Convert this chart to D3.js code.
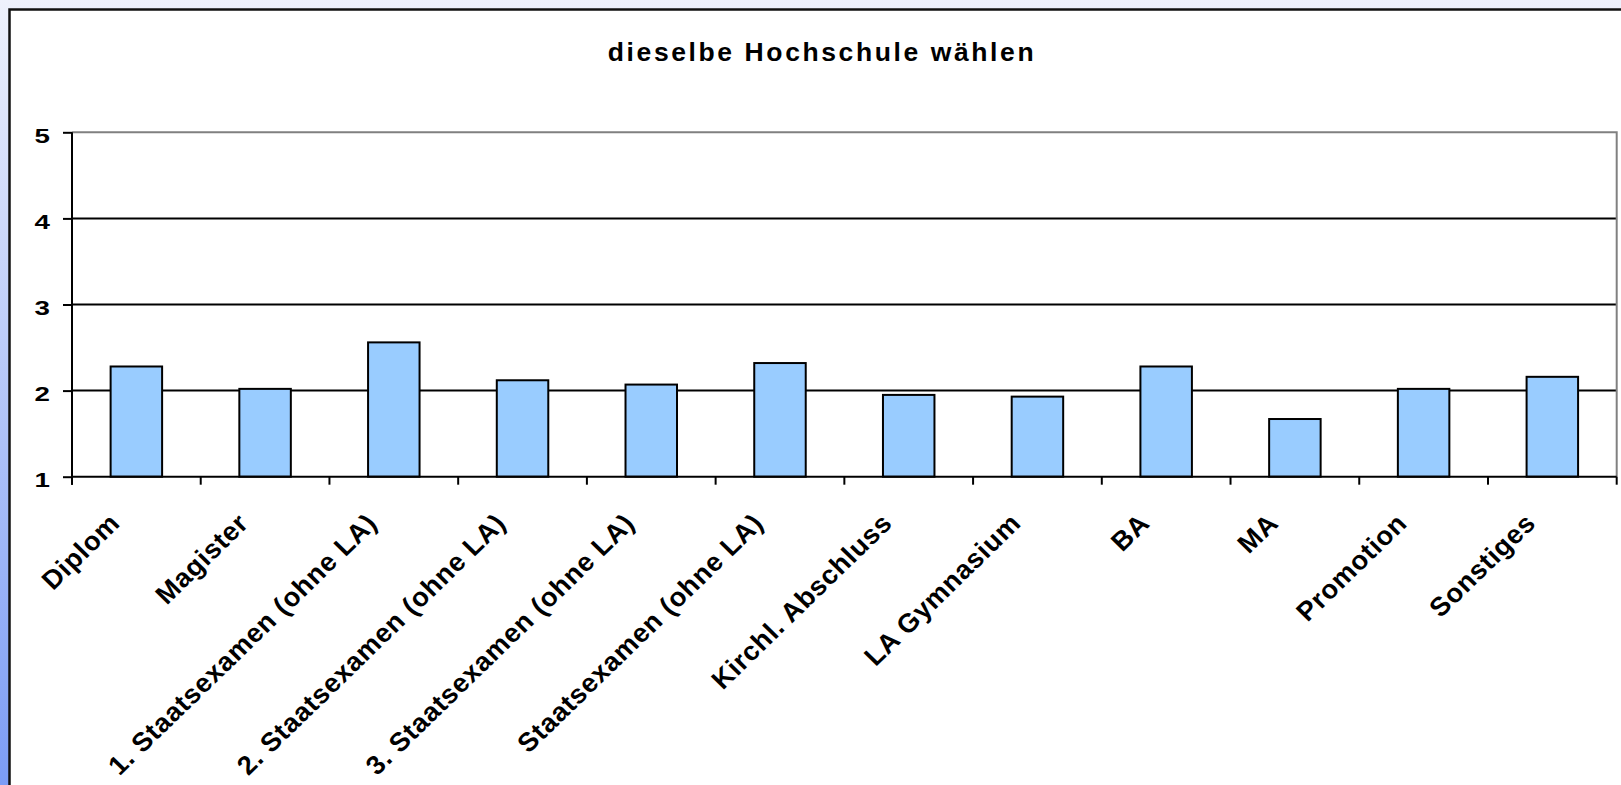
<!DOCTYPE html>
<html>
<head>
<meta charset="utf-8">
<script src="https://d3js.org/d3.v7.min.js"></script>
<style>
  body { margin: 0; padding: 0; overflow: hidden; }
  svg { display: block; }
  text { font-family: "Liberation Sans", Arial, sans-serif; font-weight: bold; fill: #000; }
</style>
</head>
<body>
<div id="chart"></div>
<script>
// data
var categories = ["Diplom", "Magister", "1. Staatsexamen (ohne LA)", "2. Staatsexamen (ohne LA)",
  "3. Staatsexamen (ohne LA)", "Staatsexamen (ohne LA)", "Kirchl. Abschluss", "LA Gymnasium",
  "BA", "MA", "Promotion", "Sonstiges"];
var values = [2.28, 2.02, 2.56, 2.12, 2.07, 2.32, 1.95, 1.93, 2.28, 1.67, 2.02, 2.16];
var yTicks = [1, 2, 3, 4, 5];
var title = "dieselbe Hochschule wählen";

var width = 1621, height = 785;
var margin = { top: 132.3, right: 4.3, bottom: 308.3, left: 72 };

var svg = d3.select("#chart").append("svg")
  .attr("width", width)
  .attr("height", height);

// background gradient + frame
var defs = svg.append("defs");
var grad = defs.append("linearGradient")
  .attr("id", "bg")
  .attr("x1", 0).attr("y1", 0).attr("x2", 0).attr("y2", 1);
grad.append("stop").attr("offset", "0%").attr("stop-color", "#eef1fc");
grad.append("stop").attr("offset", "100%").attr("stop-color", "#7b9cf5");

svg.append("rect")
  .attr("width", width).attr("height", height)
  .attr("fill", "url(#bg)");

svg.append("rect")
  .attr("x", 9.5).attr("y", 9.5)
  .attr("width", width + 20).attr("height", height + 20)
  .attr("fill", "#fff")
  .attr("stroke", "#111")
  .attr("stroke-width", 2.5);

svg.append("text")
  .attr("x", 822)
  .attr("y", 61)
  .attr("text-anchor", "middle")
  .style("font-size", "26.5px")
  .style("letter-spacing", "2.6px")
  .text(title);

var x = d3.scaleBand()
  .domain(categories)
  .range([margin.left, width - margin.right])
  .paddingInner(0.6)
  .paddingOuter(0.3);

var y = d3.scaleLinear()
  .domain([1, 5])
  .range([height - margin.bottom, margin.top]);

var plotL = margin.left, plotR = width - margin.right;
var plotT = margin.top, plotB = height - margin.bottom;

// gridlines
svg.append("g")
  .selectAll("line")
  .data(yTicks.filter(function(d){ return d > 1 && d < 5; }))
  .enter().append("line")
  .attr("x1", plotL).attr("x2", plotR)
  .attr("y1", function(d){ return y(d); })
  .attr("y2", function(d){ return y(d); })
  .attr("stroke", "#000")
  .attr("stroke-width", 2);

// plot area border (top/right gray)
svg.append("path")
  .attr("d", "M" + plotL + "," + plotT + "H" + plotR + "V" + plotB)
  .attr("fill", "none")
  .attr("stroke", "#808080")
  .attr("stroke-width", 2);

// bars
svg.append("g")
  .selectAll("rect")
  .data(values)
  .enter().append("rect")
  .attr("x", function(d, i){ return x(categories[i]); })
  .attr("y", function(d){ return y(d); })
  .attr("width", x.bandwidth())
  .attr("height", function(d){ return y(1) - y(d); })
  .attr("fill", "#99ccff")
  .attr("stroke", "#000")
  .attr("stroke-width", 2);

// y axis
var yAxis = svg.append("g")
  .attr("transform", "translate(" + plotL + ",0)")
  .call(d3.axisLeft(y).tickValues(yTicks).tickSize(9).tickPadding(13).tickFormat(d3.format("d")));
yAxis.select(".domain").remove();
yAxis.append("line")
  .attr("y1", plotT).attr("y2", plotB + 8)
  .attr("stroke", "#000").attr("stroke-width", 2);
yAxis.selectAll(".tick line").attr("stroke", "#000").attr("stroke-width", 2);
yAxis.selectAll("text")
  .attr("x", null)
  .attr("dy", null)
  .attr("transform", "translate(-22,10) scale(1.32,1)")
  .style("font-size", "21px")
  .style("font-family", "'Liberation Sans', Arial, sans-serif")
  .style("font-weight", "bold")
  .attr("fill", "#000");

// x axis
var step = x.step();
var bounds = d3.range(categories.length + 1).map(function(i){ return plotL + i * step; });
svg.append("line")
  .attr("x1", plotL).attr("x2", plotR)
  .attr("y1", plotB).attr("y2", plotB)
  .attr("stroke", "#000").attr("stroke-width", 2);
svg.append("g")
  .selectAll("line")
  .data(bounds)
  .enter().append("line")
  .attr("x1", function(d){ return d; }).attr("x2", function(d){ return d; })
  .attr("y1", plotB).attr("y2", plotB + 8)
  .attr("stroke", "#000").attr("stroke-width", 2);

svg.append("g")
  .selectAll("text")
  .data(categories)
  .enter().append("text")
  .attr("text-anchor", "end")
  .style("font-size", "26.5px")
  .style("letter-spacing", "0.7px")
  .attr("transform", function(d){
    var cx = x(d) + x.bandwidth() / 2;
    return "translate(" + (cx - 15) + "," + (plotB + 48) + ") scale(1.03,1) rotate(-45)";
  })
  .text(function(d){ return d; });
</script>
</body>
</html>
